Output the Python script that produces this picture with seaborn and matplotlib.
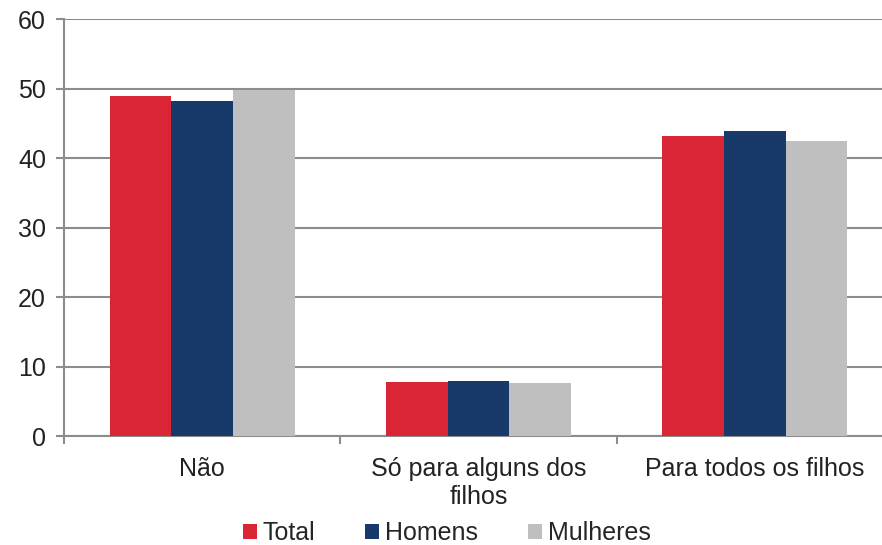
import pandas as pd
import matplotlib.pyplot as plt
import seaborn as sns

categories = ["Não", "Só para alguns dos\nfilhos", "Para todos os filhos"]
series = ["Total", "Homens", "Mulheres"]
total = [49.0, 7.8, 43.2]
homens = [48.2, 7.9, 43.9]
mulheres = [49.8, 7.6, 42.4]
colors = ["#DA2536", "#173A6B", "#BFBFBF"]

df = pd.DataFrame({
    "categoria": categories * 3,
    "grupo": [s for s in series for _ in categories],
    "valor": total + homens + mulheres,
})

sns.set_style("white")
plt.rcParams["font.family"] = ["Liberation Sans", "DejaVu Sans"]

fig = plt.figure(figsize=(8.82, 5.45), dpi=100)
ax = fig.add_axes([64 / 882, 0.2, (893 - 64) / 882, 0.765])

sns.barplot(data=df, x="categoria", y="valor", hue="grupo", palette=colors,
            width=0.67, gap=0, saturation=1, linewidth=0, ax=ax, zorder=3)

grid_c = "#8C8C8C"
txt_c = "#222222"
fs = 18
ax.set_ylim(0, 60)
ax.set_xlim(-0.5, 2.5)
ax.set_yticks(range(0, 61, 10))
ax.yaxis.grid(True, color=grid_c, linewidth=1.5, zorder=0)
ax.set_axisbelow(True)
for s in ["top", "right"]:
    ax.spines[s].set_visible(False)
for s in ["left", "bottom"]:
    ax.spines[s].set_color(grid_c)
    ax.spines[s].set_linewidth(1.5)

ax.tick_params(axis="y", left=True, length=6, width=1.5, color=grid_c,
               labelsize=fs, labelcolor=txt_c, pad=7)
ax.tick_params(axis="x", which="major", bottom=True, length=0, labelsize=fs,
               labelcolor=txt_c, pad=15)
ax.set_xticks([-0.5, 0.5, 1.5], minor=True)
ax.tick_params(axis="x", which="minor", bottom=True, length=6, width=1.5,
               color=grid_c)
for lbl in ax.get_xticklabels():
    lbl.set_linespacing(1.2)

ax.set_xlabel("")
ax.set_ylabel("")

ax.legend(loc="center", bbox_to_anchor=(447 / 882, 12 / 545), ncol=3,
          frameon=False, fontsize=fs, handlelength=0.55, handleheight=0.55,
          handletextpad=0.25, columnspacing=2.0,
          bbox_transform=fig.transFigure)

plt.savefig("out.png", dpi=100)
